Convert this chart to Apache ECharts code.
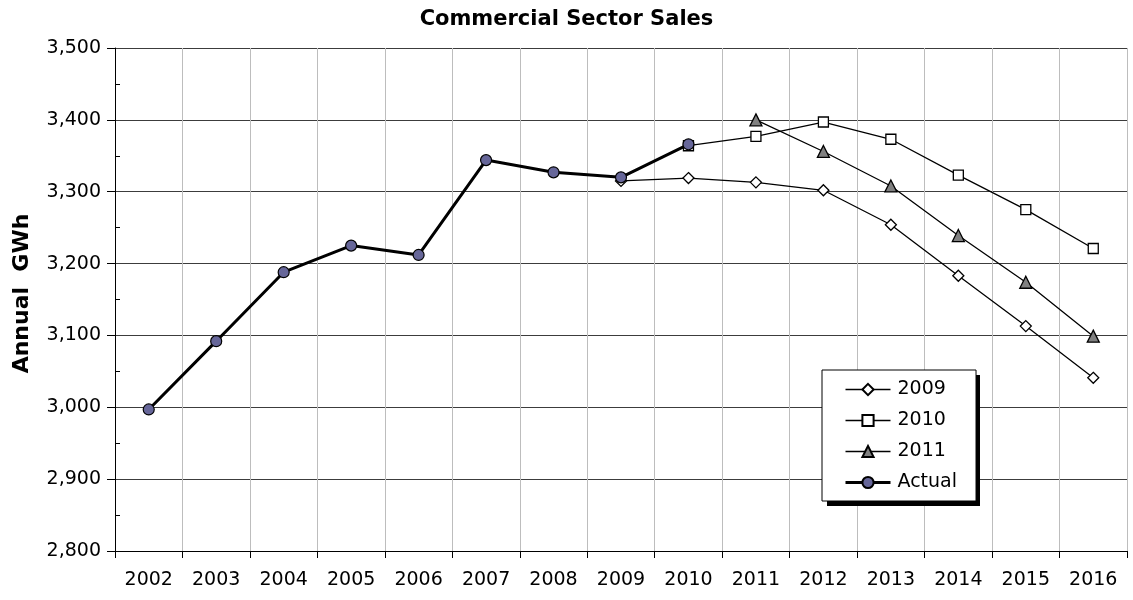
<!DOCTYPE html>
<html>
<head>
<meta charset="utf-8">
<title>Commercial Sector Sales</title>
<script src="https://cdn.jsdelivr.net/npm/echarts@6/dist/echarts.min.js"></script>
<style>
  html, body { margin: 0; padding: 0; background: #ffffff; }
  #chart { width: 1133px; height: 600px; }
</style>
</head>
<body>
<div id="chart"></div>
<script>
// Years on the horizontal axis
const years = ['2002', '2003', '2004', '2005', '2006', '2007', '2008', '2009',
               '2010', '2011', '2012', '2013', '2014', '2015', '2016'];

// Annual sales, GWh (null where a series has no value for that year)
const actual   = [2997, 3092, 3188, 3225, 3212, 3344, 3327, 3320, 3366,
                  null, null, null, null, null, null];
const fcst2009 = [null, null, null, null, null, null, null, 3315, 3319,
                  3313, 3302, 3254, 3183, 3113, 3041];
const fcst2010 = [null, null, null, null, null, null, null, null, 3364,
                  3377, 3397, 3373, 3323, 3275, 3221];
const fcst2011 = [null, null, null, null, null, null, null, null, null,
                  3400, 3356, 3308, 3239, 3174, 3099];

// Value axis range
const yMin = 2800;
const yMax = 3500;
const yStep = 100;

const FONT = 'DejaVu Sans';

// Legend box placement (the drop shadow sits behind it)
const LEGEND_BOX = { x: 822, y: 370, w: 153, h: 131 };

const chart = echarts.init(document.getElementById('chart'), null, { renderer: 'canvas' });

function forecastSeries(name, data, symbol, size, fill) {
  return {
    name: name,
    type: 'line',
    data: data,
    symbol: symbol,
    symbolSize: size,
    showAllSymbol: true,
    connectNulls: false,
    lineStyle: { color: '#000000', width: 1.3 },
    itemStyle: { color: fill, borderColor: '#000000', borderWidth: 1.3 },
    emphasis: { disabled: true }
  };
}

chart.setOption({
  animation: false,
  backgroundColor: '#ffffff',
  title: {
    text: 'Commercial Sector Sales',
    left: 'center',
    top: 4,
    textStyle: { fontFamily: FONT, fontWeight: 'bold', fontSize: 21, color: '#000000' }
  },
  grid: { left: 115, top: 48, width: 1012, height: 503, containLabel: false },
  graphic: [{
    type: 'rect',
    z: 3,
    silent: true,
    shape: { x: LEGEND_BOX.x + 5, y: LEGEND_BOX.y + 5, width: LEGEND_BOX.w, height: LEGEND_BOX.h },
    style: { fill: '#000000' }
  }],
  legend: {
    orient: 'vertical',
    left: LEGEND_BOX.x,
    top: LEGEND_BOX.y,
    z: 4,
    data: [
      { name: '2009', lineStyle: { width: 1.3 } },
      { name: '2010', lineStyle: { width: 1.3 } },
      { name: '2011', lineStyle: { width: 1.3 } },
      { name: 'Actual', lineStyle: { width: 3 } }
    ],
    itemWidth: 45,
    itemHeight: 14,
    itemGap: 12,
    padding: [10, 19, 9, 22],
    backgroundColor: '#ffffff',
    borderColor: '#000000',
    borderWidth: 1,
    borderRadius: 0,
    textStyle: { fontFamily: FONT, fontSize: 19, color: '#000000', padding: [0, 0, 0, 2] },
    selectedMode: false
  },
  xAxis: {
    type: 'category',
    data: years,
    boundaryGap: true,
    axisLine: { show: true, lineStyle: { color: '#000000', width: 1 } },
    axisTick: { show: true, length: 7, alignWithLabel: false, lineStyle: { color: '#000000' } },
    axisLabel: { fontFamily: FONT, fontSize: 19, color: '#000000', margin: 20 },
    splitLine: { show: true, lineStyle: { color: '#bdbdbd', width: 1 } }
  },
  yAxis: {
    type: 'value',
    min: yMin,
    max: yMax,
    interval: yStep,
    name: 'Annual  GWh',
    nameLocation: 'middle',
    nameGap: 82,
    nameTextStyle: { fontFamily: FONT, fontWeight: 'bold', fontSize: 22, color: '#000000', padding: [0, 0, 0, 12] },
    axisLine: { show: true, lineStyle: { color: '#000000', width: 1 } },
    axisTick: { show: true, length: 8, lineStyle: { color: '#000000' } },
    minorTick: { show: true, splitNumber: 2, length: -5, lineStyle: { color: '#000000' } },
    axisLabel: {
      fontFamily: FONT, fontSize: 19, color: '#000000', margin: 14,
      formatter: v => v.toLocaleString('en-US')
    },
    splitLine: { show: true, lineStyle: { color: '#3c3c3c', width: 1 } }
  },
  series: [
    forecastSeries('2009', fcst2009, 'diamond', 11, '#ffffff'),
    forecastSeries('2010', fcst2010, 'rect', 10, '#ffffff'),
    forecastSeries('2011', fcst2011, 'triangle', 12, '#808080'),
    {
      name: 'Actual',
      type: 'line',
      data: actual,
      symbol: 'circle',
      symbolSize: 11,
      showAllSymbol: true,
      lineStyle: { color: '#000000', width: 3 },
      itemStyle: { color: '#666699', borderColor: '#000000', borderWidth: 1.2 },
      emphasis: { disabled: true }
    }
  ]
});
</script>
</body>
</html>
